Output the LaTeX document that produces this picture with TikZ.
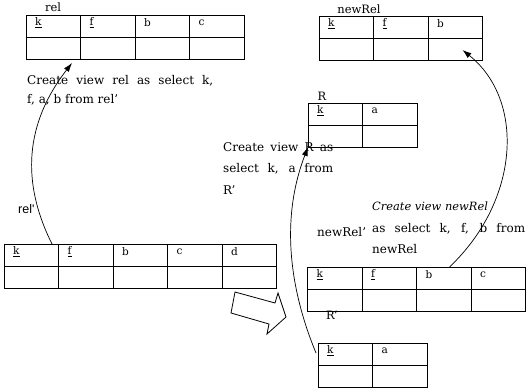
\documentclass[tikz,border=0pt]{standalone}
\usepackage{fontspec}
\setmainfont{DejaVu Serif}
\newfontfamily\arrowsans{Liberation Sans}
\usetikzlibrary{arrows.meta,calc}
\newcommand{\dbtable}[4]{\begin{scope}[shift={(#2)}]
  \node[tblbox,minimum width=#3*54.5pt] (#1) at (0,0) {};
  \draw[tblline] (#1.west) -- (#1.east);
  \foreach \h [count=\i from 0] in {#4} {
    \ifnum\i>0 \draw[tblline] (\i*54.5,0) -- (\i*54.5,44);\fi
    \node[hdr] at (\i*54.5+9,8) {\h};}
  \end{scope}}

\begin{document}
\begin{tikzpicture}[x=1pt,y=-1pt,
  tblbox/.style={draw,line width=0.8pt,anchor=north west,minimum height=44pt,inner sep=0pt,outer sep=0pt},
  tblline/.style={line width=0.8pt},
  hdr/.style={anchor=west,inner sep=0pt,font=\fontsize{10.5}{12}\selectfont},
  lbl/.style={anchor=base,inner sep=0pt,font=\fontsize{11.5}{13}\selectfont},
  txt/.style={anchor=north west,align=left,inner sep=0pt,font=\fontsize{12}{21.5}\selectfont},
  link/.style={line width=0.7pt,-{Latex[length=9pt,width=6pt]}}]
\useasboundingbox (0,0) rectangle (526,388);
\dbtable{rel}{26,15}{4}{\underline{k},\underline{f},b,c}
\dbtable{newrel}{319,16}{3}{\underline{k},\underline{f},b}
\dbtable{rtab}{308,103}{2}{\underline{k},a}
\dbtable{relp}{4,244}{5}{\underline{k},\underline{f},b,c,d}
\dbtable{newrelp}{307.5,267}{4}{\underline{k},\underline{f},b,c}
\dbtable{rp}{318,343}{2}{\underline{k},a}
\node[lbl] (rellbl) at (53,12) {rel};
\node[lbl] (newrellbl) at (359,13) {newRel};
\node[lbl] (rlbl) at (322,100) {R};
\node[lbl] (rplbl) at (332,319) {R'};
\node[lbl,anchor=base west,font=\fontsize{12}{13}\selectfont] (newrelplbl) at (317,236) {newRel'};
\node[lbl,anchor=base west,font=\arrowsans\fontsize{12.5}{14}\selectfont] (relplbl) at (18,213) {rel'};
\node[txt,font=\fontsize{12}{19}\selectfont] (reltxt) at (27,75)
  {\makebox[186pt][s]{Create view rel as select k,}\\ f, a, b from rel'};
\node[txt] (rtxt) at (223,142)
  {\makebox[110pt][s]{Create view R as}\\ \makebox[110pt][s]{select k, a from}\\ R'};
\node[txt] (newreltxt) at (372,202)
  {{\itshape\fontsize{11.4}{21.5}\selectfont Create view newRel}\\ \makebox[153pt][s]{as select k, f, b from}\\ newRel};
\coordinate (relfrom) at ($(relp.north west)+(48,0)$);
\coordinate (relto) at ($(rel.south west)+(46,4)$);
\coordinate (newrelfrom) at ($(newrelp.north west)+(142,0)$);
\coordinate (newrelto) at ($(newrel.south east)+(-20,-10)$);
\coordinate (rfrom) at ($(rp.north west)+(-2,10)$);
\draw[link] (relfrom) .. controls (25,190) and (20,130) .. (relto);
\draw[link] (newrelfrom) .. controls (520,200) and (525,100) .. (newrelto);
\draw[link] (rfrom) .. controls (290,290) and (280,220) .. (rtab.south west);
\draw[line width=0.8pt] (235,292) -- (275,303) -- (278,293) -- (286,317)
  -- (267,334) -- (269,324) -- (231,313) -- cycle;
\end{tikzpicture}
\end{document}
